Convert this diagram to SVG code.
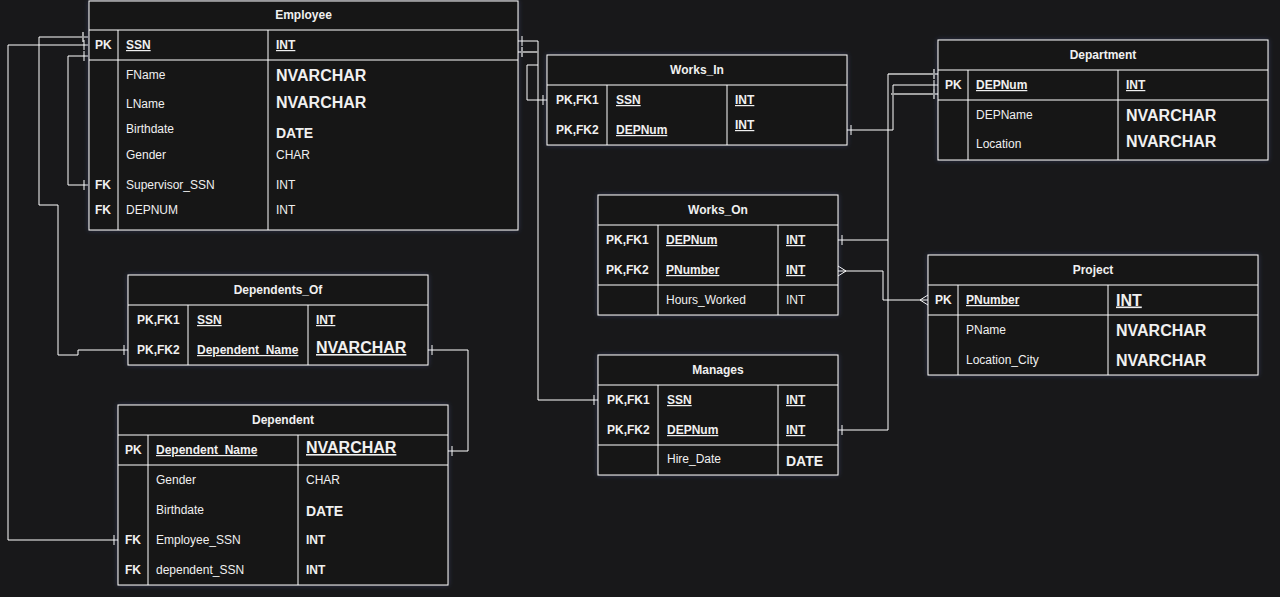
<svg xmlns="http://www.w3.org/2000/svg" width="1280" height="597" viewBox="0 0 1280 597">
<defs>
<style>
.bg{fill:#18181a}
.box{fill:#121214;stroke:#ffffff;stroke-width:1;filter:url(#glow)}
.dv{stroke:#ffffff;stroke-width:1;fill:none}
.ln{stroke:#ffffff;stroke-width:1;fill:none}
.gr{stroke:#a0a0a0;stroke-width:2;fill:none}
.t{font-family:"Liberation Sans",Arial,Helvetica,sans-serif;font-size:12px;fill:#f0f0f0}
.h{font-weight:bold;text-anchor:middle}
.b{font-weight:bold}
.u{text-decoration:underline}
.big{font-size:16px;font-weight:bold}
.md{font-size:14px;font-weight:bold}
</style>
<filter id="glow" x="-10%" y="-20%" width="120%" height="140%">
<feDropShadow dx="0" dy="0" stdDeviation="2.5" flood-color="#4a5a9a" flood-opacity="0.45"/>
</filter>
</defs>
<rect class="bg" x="0" y="0" width="1280" height="597"/>

<g id="connectors">
<path class="ln" d="M88,37 H39 V205 H58 V355 H78 V350 H128"/>
<path class="gr" d="M83,32 V42"/>
<path class="ln" d="M124,345 V355"/>
<path class="ln" d="M88,45 H8 V540 H118"/>
<path class="ln" d="M84,40 V50 M114,535 V545"/>
<path class="ln" d="M88,56 H68 V185 H88"/>
<path class="ln" d="M84,51 V61 M84,180 V190"/>
<path class="ln" d="M518,41 H538 V400 H598"/>
<path class="ln" d="M522,36 V46 M594,395 V405"/>
<path class="gr" d="M518,52 H538 M522,47 V57"/>
<path class="ln" d="M538,65 H527 V100 H547"/>
<path class="ln" d="M543,95 V105"/>
<path class="ln" d="M847,130 H893 V85 H938"/>
<path class="ln" d="M851,125 V135 M934,80 V90"/>
<path class="gr" d="M888,74 H938 M891,94 H938 M934,69 V79 M934,89 V99"/>
<path class="ln" d="M888,74 V430 H838 M888,240 H838"/>
<path class="ln" d="M842,235 V245 M842,425 V435"/>
<path class="ln" d="M838,271 H883 V300 H928"/>
<path class="ln" d="M838,266 L846,271 L838,276 M928,295 L920,300 L928,305"/>
<path class="ln" d="M428,350 H468 V451 H448"/>
<path class="ln" d="M432,345 V355 M452,446 V456"/>
</g>

<g id="employee">
<rect class="box" x="89" y="1" width="429" height="229"/>
<path class="dv" d="M89,30 H518 M89,60 H518 M118,30 V230 M268,30 V230"/>
<text class="t h" x="303.5" y="19">Employee</text>
<text class="t b" x="95" y="49">PK</text>
<text class="t b u" x="126" y="49">SSN</text>
<text class="t b u" x="276" y="49">INT</text>
<text class="t" x="126" y="79">FName</text>
<text class="t big" x="276" y="80.5">NVARCHAR</text>
<text class="t" x="126" y="108">LName</text>
<text class="t big" x="276" y="107.5">NVARCHAR</text>
<text class="t" x="126" y="133">Birthdate</text>
<text class="t md" x="276" y="138">DATE</text>
<text class="t" x="126" y="159">Gender</text>
<text class="t" x="276" y="159">CHAR</text>
<text class="t b" x="95" y="189">FK</text>
<text class="t" x="126" y="189">Supervisor_SSN</text>
<text class="t" x="276" y="189">INT</text>
<text class="t b" x="95" y="214">FK</text>
<text class="t" x="126" y="214">DEPNUM</text>
<text class="t" x="276" y="214">INT</text>
</g>

<g id="works_in">
<rect class="box" x="547" y="55" width="300" height="90"/>
<path class="dv" d="M547,85 H847 M607,85 V145 M727,85 V145"/>
<text class="t h" x="697" y="74">Works_In</text>
<text class="t b" x="556" y="104">PK,FK1</text>
<text class="t b u" x="616" y="104">SSN</text>
<text class="t b u" x="735" y="104">INT</text>
<text class="t b" x="556" y="134">PK,FK2</text>
<text class="t b u" x="616" y="134">DEPNum</text>
<text class="t b u" x="735" y="129">INT</text>
</g>

<g id="department">
<rect class="box" x="938" y="40" width="330" height="120"/>
<path class="dv" d="M938,70 H1268 M938,100 H1268 M968,70 V160 M1118,70 V160"/>
<text class="t h" x="1103" y="59">Department</text>
<text class="t b" x="945" y="89">PK</text>
<text class="t b u" x="976" y="89">DEPNum</text>
<text class="t b u" x="1126" y="89">INT</text>
<text class="t" x="976" y="119">DEPName</text>
<text class="t big" x="1126" y="121">NVARCHAR</text>
<text class="t" x="976" y="148">Location</text>
<text class="t big" x="1126" y="147">NVARCHAR</text>
</g>

<g id="works_on">
<rect class="box" x="598" y="195" width="240" height="120"/>
<path class="dv" d="M598,225 H838 M598,285 H838 M658,225 V315 M778,225 V315"/>
<text class="t h" x="718" y="214">Works_On</text>
<text class="t b" x="606" y="244">PK,FK1</text>
<text class="t b u" x="666" y="244">DEPNum</text>
<text class="t b u" x="786" y="244">INT</text>
<text class="t b" x="606" y="274">PK,FK2</text>
<text class="t b u" x="666" y="274">PNumber</text>
<text class="t b u" x="786" y="274">INT</text>
<text class="t" x="666" y="304">Hours_Worked</text>
<text class="t" x="786" y="304">INT</text>
</g>

<g id="project">
<rect class="box" x="928" y="255" width="330" height="120"/>
<path class="dv" d="M928,285 H1258 M928,315 H1258 M958,285 V375 M1108,285 V375"/>
<text class="t h" x="1093" y="274">Project</text>
<text class="t b" x="935" y="304">PK</text>
<text class="t b u" x="966" y="304">PNumber</text>
<text class="t big u" x="1116" y="305.5">INT</text>
<text class="t" x="966" y="334">PName</text>
<text class="t big" x="1116" y="335.5">NVARCHAR</text>
<text class="t" x="966" y="364">Location_City</text>
<text class="t big" x="1116" y="365.5">NVARCHAR</text>
</g>

<g id="manages">
<rect class="box" x="598" y="355" width="240" height="120"/>
<path class="dv" d="M598,385 H838 M598,445 H838 M658,385 V475 M778,385 V475"/>
<text class="t h" x="718" y="374">Manages</text>
<text class="t b" x="607" y="404">PK,FK1</text>
<text class="t b u" x="667" y="404">SSN</text>
<text class="t b u" x="786" y="404">INT</text>
<text class="t b" x="607" y="434">PK,FK2</text>
<text class="t b u" x="667" y="434">DEPNum</text>
<text class="t b u" x="786" y="434">INT</text>
<text class="t" x="667" y="463">Hire_Date</text>
<text class="t md" x="786" y="466">DATE</text>
</g>

<g id="dependents_of">
<rect class="box" x="128" y="275" width="300" height="90"/>
<path class="dv" d="M128,305 H428 M188,305 V365 M308,305 V365"/>
<text class="t h" x="278" y="293.5">Dependents_Of</text>
<text class="t b" x="137" y="324">PK,FK1</text>
<text class="t b u" x="197" y="324">SSN</text>
<text class="t b u" x="316" y="324">INT</text>
<text class="t b" x="137" y="354">PK,FK2</text>
<text class="t b u" x="197" y="354">Dependent_Name</text>
<text class="t big u" x="316" y="353">NVARCHAR</text>
</g>

<g id="dependent">
<rect class="box" x="118" y="405" width="330" height="180"/>
<path class="dv" d="M118,435 H448 M118,465 H448 M148,435 V585 M298,435 V585"/>
<text class="t h" x="283" y="423.5">Dependent</text>
<text class="t b" x="125" y="454">PK</text>
<text class="t b u" x="156" y="454">Dependent_Name</text>
<text class="t big u" x="306" y="453">NVARCHAR</text>
<text class="t" x="156" y="483.5">Gender</text>
<text class="t" x="306" y="483.5">CHAR</text>
<text class="t" x="156" y="513.5">Birthdate</text>
<text class="t md" x="306" y="516">DATE</text>
<text class="t b" x="125" y="543.5">FK</text>
<text class="t" x="156" y="543.5">Employee_SSN</text>
<text class="t b" x="306" y="543.5">INT</text>
<text class="t b" x="125" y="573.5">FK</text>
<text class="t" x="156" y="573.5">dependent_SSN</text>
<text class="t b" x="306" y="573.5">INT</text>
</g>
</svg>
